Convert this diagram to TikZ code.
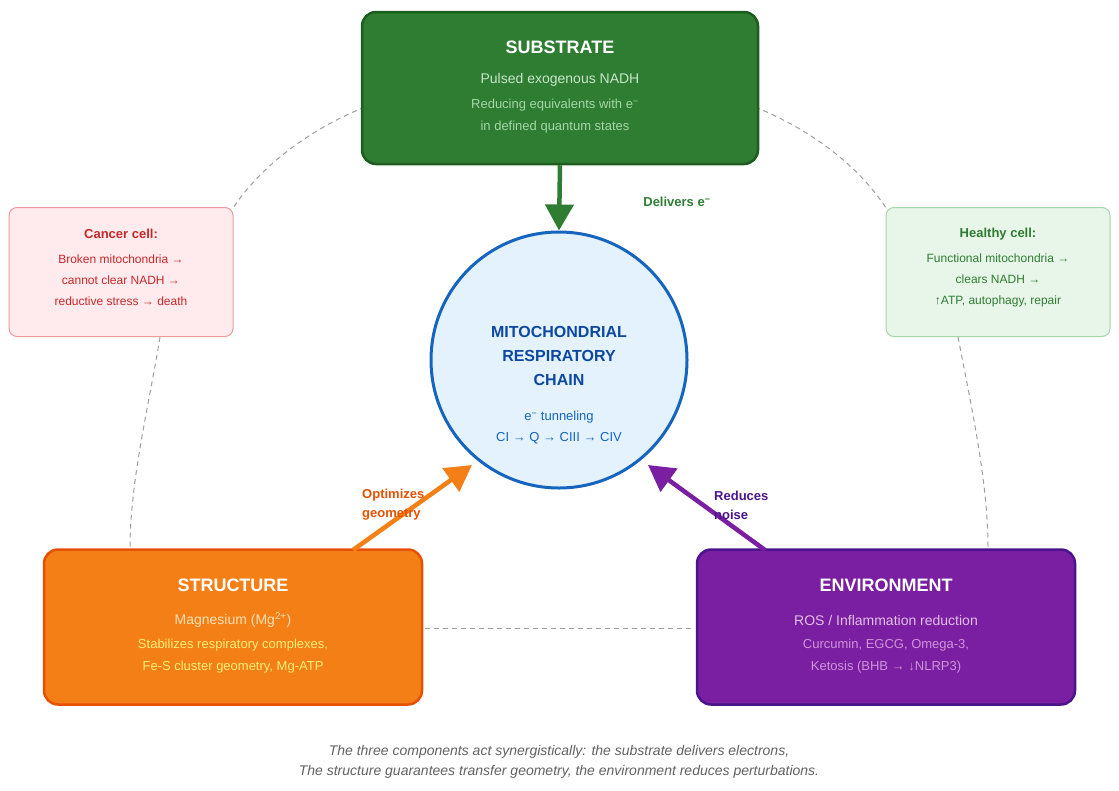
\documentclass[tikz,border=0pt]{standalone}
\usepackage{fontspec}
\setmainfont{Liberation Sans}
\usetikzlibrary{arrows.meta}
\definecolor{sg}{HTML}{2E7D32}\definecolor{sgd}{HTML}{1B5E20}
\definecolor{sgl}{HTML}{C8E6C9}\definecolor{sgm}{HTML}{A5D6A7}
\definecolor{cb}{HTML}{E3F2FD}\definecolor{cbd}{HTML}{1565C0}\definecolor{cbt}{HTML}{0D47A1}
\definecolor{so}{HTML}{F57F17}\definecolor{sod}{HTML}{E65100}
\definecolor{sol}{HTML}{FFE0B2}\definecolor{soy}{HTML}{FFF176}
\definecolor{ep}{HTML}{7B1FA2}\definecolor{epd}{HTML}{4A148C}
\definecolor{epl}{HTML}{E1BEE7}\definecolor{epm}{HTML}{CE93D8}
\definecolor{rb}{HTML}{EF9A9A}\definecolor{rf}{HTML}{FFEBEE}\definecolor{rt}{HTML}{C62828}
\definecolor{gf}{HTML}{E8F5E9}
\definecolor{dg}{HTML}{9E9E9E}\definecolor{capc}{HTML}{616161}
\tikzset{box/.style={rounded corners=14pt,line width=2.5pt},
 side/.style={rounded corners=8pt,line width=1pt},
 dsh/.style={dg,line width=1pt,dash pattern=on 5pt off 4pt},
 arr/.style={line width=4.5pt,-{Triangle[length=26pt,width=28pt]}},
 t/.style={font=\fontsize{#1}{#1}\selectfont,inner sep=0}}
\begin{document}
\begin{tikzpicture}[x=1pt,y=-1pt]
\useasboundingbox (0,0) rectangle (1119,790);
\coordinate (c1) at (425,88);\coordinate (c2) at (233,208);
\coordinate (c3) at (695,88);\coordinate (c4) at (886,208);
\coordinate (c5) at (160,337);\coordinate (c6) at (130,548);
\coordinate (c7) at (958,337);\coordinate (c8) at (988,548);
\coordinate (c9) at (425,628);\coordinate (c10) at (695,628);
\draw[dsh] (c1) .. controls (330,110) and (265,160) .. (c2);
\draw[dsh] (c3) .. controls (790,110) and (855,160) .. (c4);
\draw[dsh] (c5) .. controls (150,400) and (130,480) .. (c6);
\draw[dsh] (c7) .. controls (970,400) and (988,480) .. (c8);
\draw[dsh] (c9) -- (c10);
\node[box,draw=sgd,fill=sg,minimum width=396pt,minimum height=152pt] (sub) at (560,88) {};
\node[white,font=\bfseries\fontsize{18}{18}\selectfont,inner sep=0] at (560,47) {SUBSTRATE};
\node[t=14,sgl] at (560,80) {Pulsed exogenous NADH};
\node[t=13,sgm,align=center] at (555,116) {Reducing equivalents with e\textsuperscript{−}\\[9pt] in defined quantum states};
\node[box,draw=sod,fill=so,minimum width=378pt,minimum height=155pt] (str) at (233,627) {};
\node[white,font=\bfseries\fontsize{18}{18}\selectfont,inner sep=0] at (233,585) {STRUCTURE};
\node[t=14,sol] at (233,620) {Magnesium (Mg\textsuperscript{2+})};
\node[t=13,soy,align=center] at (233,656) {Stabilizes respiratory complexes,\\[9pt] Fe-S cluster geometry, Mg-ATP};
\node[box,draw=epd,fill=ep,minimum width=378pt,minimum height=155pt] (env) at (886,627) {};
\node[white,font=\bfseries\fontsize{18}{18}\selectfont,inner sep=0] at (886,585) {ENVIRONMENT};
\node[t=14,epl] at (886,620) {ROS / Inflammation reduction};
\node[t=13,epm,align=center] at (886,656) {Curcumin, EGCG, Omega-3,\\[9pt] Ketosis (BHB → ↓NLRP3)};
\node[side,draw=rb,fill=rf,minimum width=224pt,minimum height=129pt] (can) at (121,272) {};
\node[rt,font=\bfseries\fontsize{13}{13}\selectfont,inner sep=0] at (121,234) {Cancer cell:};
\node[t=12,rt,align=center] at (121,280) {Broken mitochondria →\\[9pt] cannot clear NADH →\\[9pt] reductive stress → death};
\node[side,draw=sgm,fill=gf,minimum width=224pt,minimum height=129pt] (hea) at (998,272) {};
\node[sg,font=\bfseries\fontsize{13}{13}\selectfont,inner sep=0] at (998,234) {Healthy cell:};
\node[t=12,sg,align=center] at (998,280) {Functional mitochondria →\\[9pt] clears NADH →\\[9pt] ↑ATP, autophagy, repair};
\node[circle,draw=cbd,fill=cb,line width=3pt,minimum size=256pt] (mrc) at (559,360) {};
\node[cbt,font=\bfseries\fontsize{16}{16}\selectfont,align=center,inner sep=0] at (559,356) {MITOCHONDRIAL\\[8pt]RESPIRATORY\\[8pt]CHAIN};
\node[t=13,cbd,align=center] at (559,428) {e\textsuperscript{−} tunneling\\[8pt] CI → Q → CIII → CIV};
\coordinate (o1) at (353,550);\coordinate (o2) at (472,465);
\coordinate (p1) at (765,550);\coordinate (p2) at (648,465);
\draw[arr,sg] (sub.south) -- (mrc.north);
\draw[arr,so] (o1) -- (o2);
\draw[arr,ep] (p1) -- (p2);
\node[sg,font=\bfseries\fontsize{13}{13}\selectfont,inner sep=0] at (677,202) {Delivers e\textsuperscript{−}};
\node[sod,font=\bfseries\fontsize{13}{13}\selectfont,align=left,anchor=west,inner sep=0] at (362,505) {Optimizes\\[6pt]geometry};
\node[epd,font=\bfseries\fontsize{13}{13}\selectfont,align=left,anchor=west,inner sep=0] at (714,505) {Reduces\\[6pt]noise};
\node[capc,font=\itshape\fontsize{14}{14}\selectfont,align=center,inner sep=0] at (559,762) {The three components act synergistically: the substrate delivers electrons,\\[6pt]The structure guarantees transfer geometry, the environment reduces perturbations.};
\end{tikzpicture}
\end{document}
